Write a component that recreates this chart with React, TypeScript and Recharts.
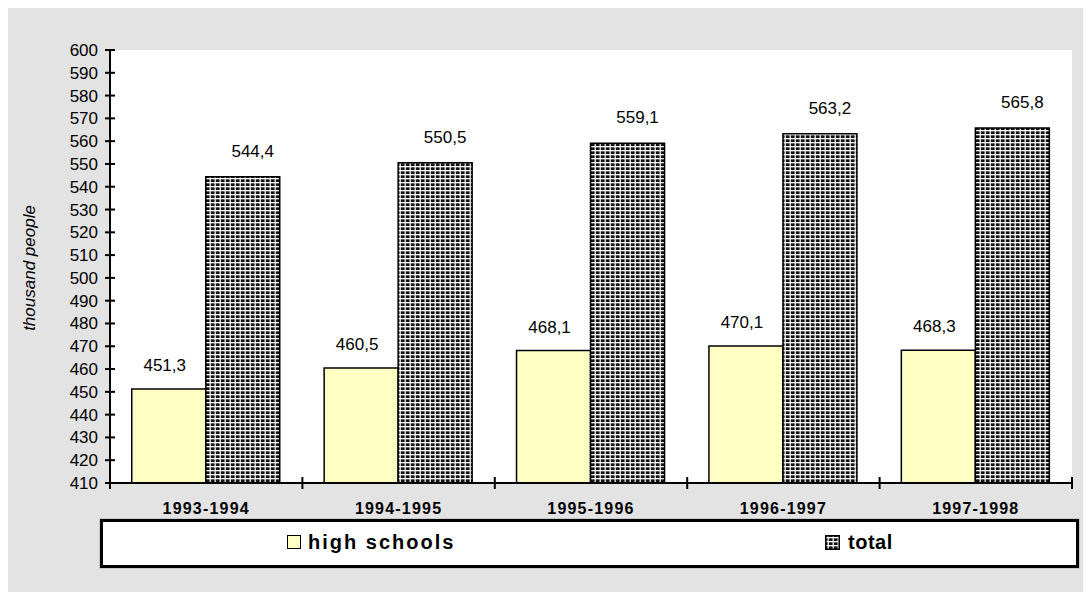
import React from 'react';
import { BarChart, Bar, XAxis, YAxis, CartesianGrid, LabelList, Legend } from 'recharts';

const CATEGORIES = ['1993-1994', '1994-1995', '1995-1996', '1996-1997', '1997-1998'];
const HIGH_SCHOOLS = [451.3, 460.5, 468.1, 470.1, 468.3];
const TOTAL = [544.4, 550.5, 559.1, 563.2, 565.8];
const Y_TICKS = [410, 420, 430, 440, 450, 460, 470, 480, 490, 500, 510, 520, 530, 540, 550, 560, 570, 580, 590, 600];
const SERIES_NAMES = ['high schools', 'total'];
const Y_LABEL = 'thousand people';

const data = CATEGORIES.map((c, i) => ({ cat: c, hs: HIGH_SCHOOLS[i], total: TOTAL[i] }));

const FONT = '"Liberation Sans", Arial, sans-serif';
const YELLOW = '#ffffc4';

const fmt = (v: number) => v.toFixed(1).replace('.', ',');

const YTick = (props: any) => {
  const { x, y, payload } = props;
  return (
    <g>
      <line x1={x - 5} x2={x + 5} y1={y} y2={y} stroke="#000" strokeWidth={2} />
      <text x={x - 12} y={y} dy={6} textAnchor="end" fontFamily={FONT} fontSize={17} fill="#000">
        {payload.value}
      </text>
    </g>
  );
};

const XTick = (props: any) => {
  const { x, y, payload, index, width } = props;
  const bw = (width || 962) / CATEGORIES.length;
  return (
    <g>
      <line x1={x - bw / 2} x2={x - bw / 2} y1={y - 6} y2={y + 6} stroke="#000" strokeWidth={2} />
      {index === CATEGORIES.length - 1 && (
        <line x1={x + bw / 2} x2={x + bw / 2} y1={y - 6} y2={y + 6} stroke="#000" strokeWidth={2} />
      )}
      <text x={x} y={y + 31} textAnchor="middle" fontFamily={FONT} fontSize={16} fontWeight="bold" letterSpacing={1.2} fill="#000">
        {payload.value}
      </text>
    </g>
  );
};

const makeLabel = (dx: number, dy: number) => (props: any) => {
  const { x, y, width, value } = props;
  return (
    <text x={x + width / 2 + dx} y={y - dy} textAnchor="middle" fontFamily={FONT} fontSize={17} fill="#000">
      {fmt(value)}
    </text>
  );
};

const YLabel = () => {
  const cx = 22;
  const cy = 260;
  return (
    <text x={cx} y={cy} transform={`rotate(-90 ${cx} ${cy})`} textAnchor="middle" dominantBaseline="central" fontFamily={FONT} fontSize={17} fontStyle="italic" fill="#000">
      {Y_LABEL}
    </text>
  );
};

const PatternDef = ({ id }: { id: string }) => (
  <pattern id={id} width={5} height={4} patternUnits="userSpaceOnUse">
    <rect x={0} y={0} width={5} height={4} fill="#111" />
    <rect x={2.5} y={0} width={1.5} height={4} fill="#d0d0d0" />
    <rect x={0} y={2} width={5} height={1.3} fill="#ffffff" />
  </pattern>
);

const LegendBox = () => (
  <div
    style={{
      width: 973,
      height: 43,
      border: '3px solid #000',
      background: '#fff',
      position: 'relative',
      boxShadow: '0 0 0 1px #c8c8c8',
      fontFamily: FONT,
    }}
  >
    <div style={{ position: 'absolute', left: 184, top: 13, width: 14, height: 14, boxSizing: 'border-box', border: '1.5px solid #000', background: YELLOW }} />
    <div style={{ position: 'absolute', left: 205, top: 6, fontSize: 20, fontWeight: 'bold', letterSpacing: 2, lineHeight: '28px', color: '#000' }}>
      {SERIES_NAMES[0]}
    </div>
    <svg style={{ position: 'absolute', left: 722, top: 13 }} width={15} height={15}>
      <defs>
        <PatternDef id="legpat" />
      </defs>
      <rect x={0.75} y={0.75} width={13.5} height={13.5} fill="url(#legpat)" stroke="#000" strokeWidth={1.5} />
    </svg>
    <div style={{ position: 'absolute', left: 745, top: 6, fontSize: 20, fontWeight: 'bold', letterSpacing: 0.5, lineHeight: '28px', color: '#000' }}>
      {SERIES_NAMES[1]}
    </div>
  </div>
);

export default function App() {
  return (
    <div style={{ marginLeft: -1, width: 1084, height: 584, background: '#e3e3e3', position: 'relative' }}>
      <BarChart
        width={1084}
        height={584}
        data={data}
        margin={{ top: 42, right: 19, bottom: 79, left: 0 }}
        barCategoryGap="11.3%"
        barGap={0}
      >
        <defs>
          <PatternDef id="totpat" />
        </defs>
        <CartesianGrid horizontal={false} vertical={false} fill="#ffffff" />
        <XAxis
          dataKey="cat"
          height={30}
          tickSize={0}
          tickMargin={0}
          tick={<XTick />}
          axisLine={{ stroke: '#000', strokeWidth: 2 }}
          tickLine={false}
          interval={0}
        />
        <YAxis
          width={103}
          domain={[410, 600]}
          ticks={Y_TICKS}
          interval={0}
          allowDataOverflow
          tickSize={0}
          tickMargin={0}
          tick={<YTick />}
          tickLine={false}
          axisLine={{ stroke: '#000', strokeWidth: 2 }}
          label={<YLabel />}
        />
        <Legend
          layout="horizontal"
          verticalAlign="middle"
          align="center"
          wrapperStyle={{ left: 93, top: 511, width: 979, height: 49, bottom: 'auto', right: 'auto' }}
          content={() => <LegendBox />}
        />
        <Bar dataKey="hs" name={SERIES_NAMES[0]} fill={YELLOW} stroke="#000" strokeWidth={1.5} isAnimationActive={false}>
          <LabelList dataKey="hs" content={makeLabel(-4, 18)} />
        </Bar>
        <Bar dataKey="total" name={SERIES_NAMES[1]} fill="url(#totpat)" stroke="#000" strokeWidth={1.5} isAnimationActive={false}>
          <LabelList dataKey="total" content={makeLabel(10, 20)} />
        </Bar>
      </BarChart>
    </div>
  );
}
